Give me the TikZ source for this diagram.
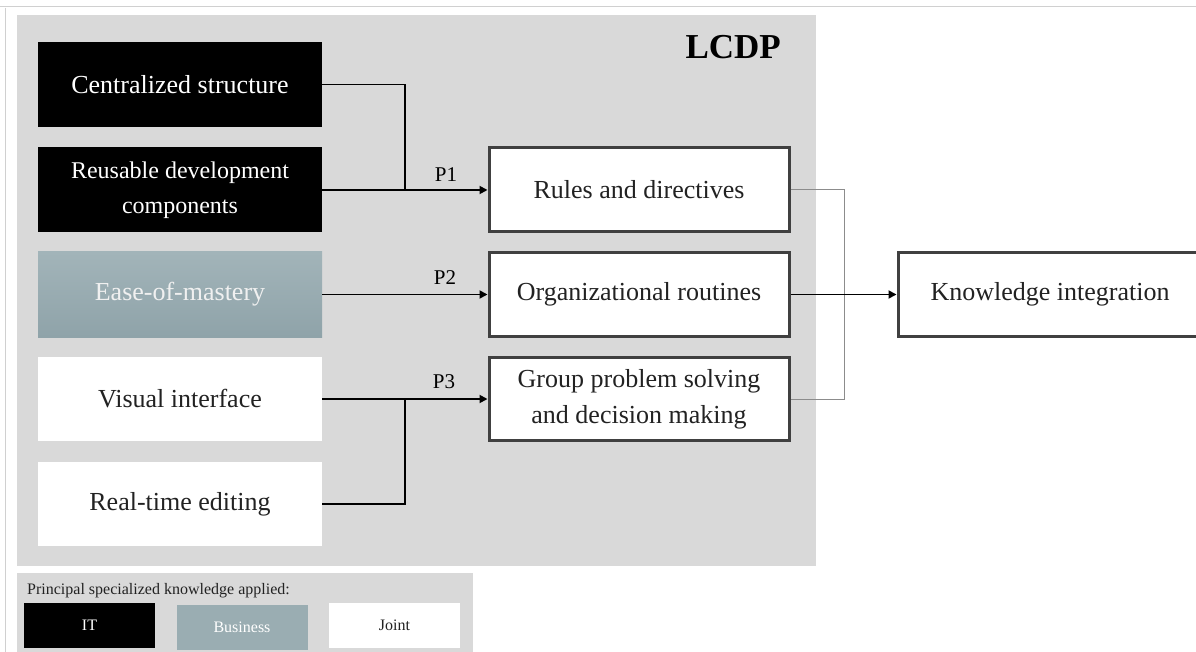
\documentclass[tikz,border=0pt]{standalone}
\usepackage{fontspec}
\setmainfont{Liberation Serif}
\usetikzlibrary{arrows.meta}
\definecolor{panelgray}{HTML}{D9D9D9}
\definecolor{framegray}{HTML}{D0D0D0}
\definecolor{bordergray}{HTML}{404040}
\definecolor{bizA}{HTML}{A2B4B9}
\definecolor{bizB}{HTML}{8FA3A9}
\definecolor{bizL}{HTML}{9AADB2}
\definecolor{txt}{HTML}{222222}
\definecolor{bracketgray}{HTML}{8C8C8C}
\tikzset{
  itbox/.style={fill=black, text=white, draw=none, minimum width=284pt, inner sep=0pt, align=center, font=\fontsize{26}{36}\selectfont},
  bizbox/.style={top color=bizA, bottom color=bizB, draw=none, text=white!94!black, minimum width=284pt, inner sep=0pt, align=center, font=\fontsize{26}{36}\selectfont},
  jointbox/.style={fill=white, draw=none, text=txt, minimum width=284pt, inner sep=0pt, align=center, font=\fontsize{26}{36}\selectfont},
  midbox/.style={fill=white, draw=bordergray, line width=3pt, text=txt, minimum width=300pt, minimum height=83pt, inner sep=0pt, align=center, font=\fontsize{26}{36}\selectfont},
  conn/.style={line width=1.8pt, black},
  arr/.style={conn, -{Triangle[length=8pt,width=8pt]}},
  plabel/.style={text=black, font=\fontsize{21}{24}\selectfont, inner sep=0pt},
  legbox/.style={minimum width=131pt, minimum height=45pt, inner sep=0pt, font=\fontsize{16}{18}\selectfont},
}
\begin{document}
\begin{tikzpicture}[x=1pt,y=-1pt]
\useasboundingbox (0,0) rectangle (1196,652);
% outer frame lines
\draw[framegray, line width=1pt] (0,7) -- (1200,7);
\draw[framegray, line width=1pt] (5,8) -- (5,660);
% main panel
\fill[panelgray] (17,15) rectangle (816,566);
\node[anchor=base east, font=\fontsize{35}{40}\selectfont\bfseries, text=black, inner sep=0pt] (lcdp) at (781,59) {LCDP};
% left boxes
\node[itbox, minimum height=85pt] (cent) at (180,84.5) {Centralized structure};
\node[itbox, minimum height=85pt, font=\fontsize{24}{35}\selectfont] (reus) at (180,190) {Reusable development\\components};
\node[bizbox, minimum height=85pt] (ease) at (180,294.5) {Ease-of-mastery};
\node[jointbox, minimum height=84pt] (vis) at (180,399) {Visual interface};
\node[jointbox, minimum height=84pt] (rt) at (180,504) {Real-time editing};
% middle boxes
\node[midbox, minimum height=84pt] (rules) at (639,190) {Rules and directives};
\node[midbox] (org) at (639,294.5) {Organizational routines};
\node[midbox] (grp) at (639,399) {Group problem solving\\and decision making};
% knowledge integration
\node[midbox, minimum width=312pt, minimum height=84pt] (ki) at (1054,294.5) {\hspace*{-8pt}Knowledge integration};
% junction coordinates
\coordinate (j1) at (405,190);
\coordinate (j3) at (405,399);
\coordinate (b1) at (844,190);
% connectors
\draw[conn] (cent.east) -| (j1);
\draw[arr] (reus.east) -- (rules.west);
\draw[arr] (ease.east) -- (org.west);
\draw[arr] (vis.east) -- (grp.west);
\draw[conn] (rt.east) -| (j3);
\draw[bracketgray, line width=1pt] (rules.east) -- (b1) |- (grp.east);
\draw[arr] (org.east) -- (ki.west);
% labels
\node[plabel] (p1) at (446,175) {P1};
\node[plabel] (p2) at (445,278) {P2};
\node[plabel] (p3) at (444,382) {P3};
% legend
\fill[panelgray] (17,573) rectangle (473,660);
\node[anchor=base west, text=txt, font=\fontsize{16}{18}\selectfont, inner sep=0pt] (legt) at (27,594) {Principal specialized knowledge applied:};
\node[legbox, fill=black, text=white] (lit) at (89.5,625.5) {IT};
\node[legbox, fill=bizL, text=white] (lbiz) at (242,627.5) {Business};
\node[legbox, fill=white, text=txt] (ljoint) at (394.5,625.5) {Joint};
\end{tikzpicture}
\end{document}
